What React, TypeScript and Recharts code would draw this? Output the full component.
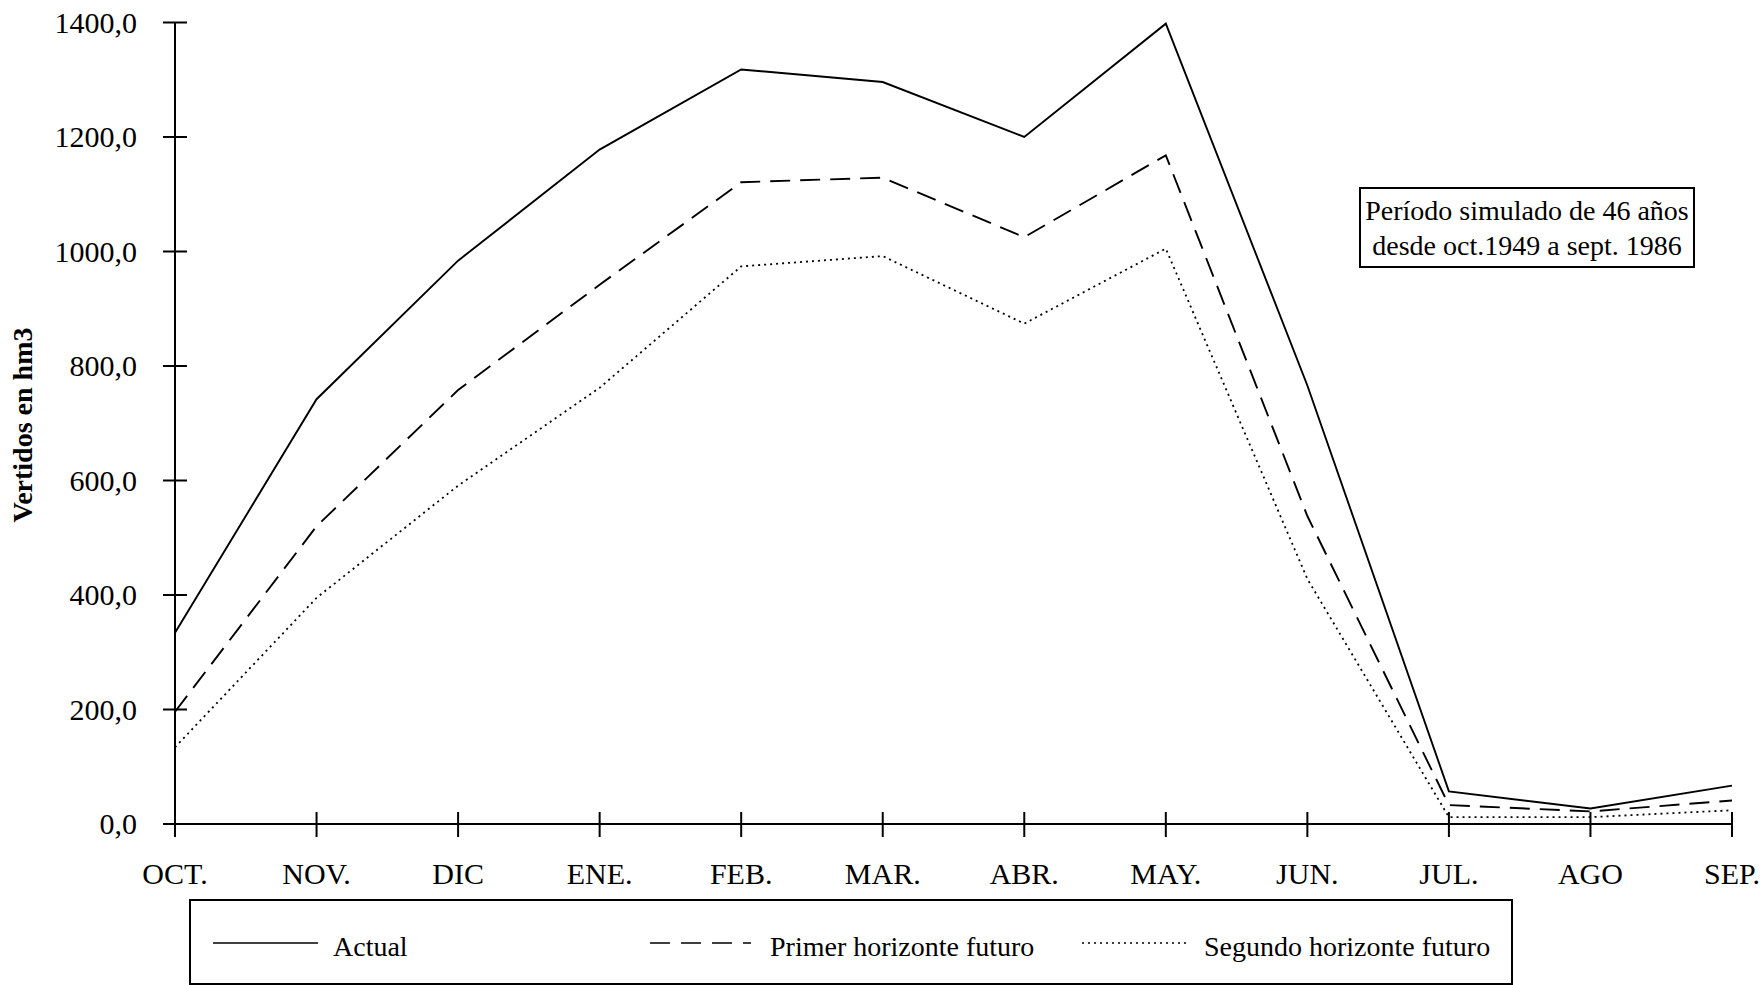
import { LineChart, Line, XAxis, YAxis } from "recharts";

const months = ["OCT.", "NOV.", "DIC", "ENE.", "FEB.", "MAR.", "ABR.", "MAY.", "JUN.", "JUL.", "AGO", "SEP."];
const actual = [334, 742, 984, 1178, 1318, 1296, 1200, 1398, 766, 57, 27, 67];
const primer = [196, 520, 758, 942, 1121, 1129, 1025, 1168, 538, 33, 22, 41];
const segundo = [134, 395, 591, 762, 974, 992, 874, 1005, 428, 12, 12, 24];
const yTicks = [0, 200, 400, 600, 800, 1000, 1200, 1400];

const series = [
  { key: "actual", name: "Actual", dash: undefined, legendDash: undefined },
  { key: "primer", name: "Primer horizonte futuro", dash: "20 10", legendDash: "20 11" },
  { key: "segundo", name: "Segundo horizonte futuro", dash: "2 4", legendDash: "2 4" },
];

const data = months.map((m, i) => ({
  month: m,
  actual: actual[i],
  primer: primer[i],
  segundo: segundo[i],
}));

const W = 1762;
const H = 985;
const FONT = "'Liberation Serif', 'Times New Roman', serif";
const AXIS_X = 175;
const AXIS_Y = 824;

const fmt = (v: number) => v.toFixed(1).replace(".", ",");

const YTick = (props: any) => {
  const { y, payload } = props;
  return (
    <g>
      <line x1={AXIS_X - 12} x2={AXIS_X + 12} y1={y} y2={y} stroke="#000" strokeWidth={2} />
      <text x={137} y={y + 10} textAnchor="end" fontSize={30} fontFamily={FONT} fill="#000">
        {fmt(payload.value)}
      </text>
    </g>
  );
};

const XTick = (props: any) => {
  const { x, payload } = props;
  return (
    <g>
      <line x1={x} x2={x} y1={AXIS_Y - 12} y2={AXIS_Y + 13} stroke="#000" strokeWidth={2} />
      <text x={x} y={884} textAnchor="middle" fontSize={30} fontFamily={FONT} fill="#000">
        {payload.value}
      </text>
    </g>
  );
};

const legendPos = [
  { lineX: 213, lineW: 105, textX: 333 },
  { lineX: 650, lineW: 101, textX: 770 },
  { lineX: 1082, lineW: 104, textX: 1204 },
];

export default function App() {
  return (
    <div style={{ position: "absolute", left: 0, top: 0, width: W, height: H, background: "#fff", fontFamily: FONT, overflow: "hidden" }}>
      <LineChart width={W} height={H} data={data} margin={{ top: 22.5, right: 30, left: 0, bottom: 0 }}>
        <XAxis
          dataKey="month"
          height={161}
          axisLine={{ stroke: "#000", strokeWidth: 2 }}
          tickLine={false}
          tick={<XTick />}
          interval={0}
        />
        <YAxis
          width={175}
          domain={[0, 1400]}
          ticks={yTicks}
          axisLine={{ stroke: "#000", strokeWidth: 2 }}
          tickLine={false}
          tick={<YTick />}
          interval={0}
        />
        {series.map((s) => (
          <Line
            key={s.key}
            type="linear"
            dataKey={s.key}
            name={s.name}
            stroke="#000"
            strokeWidth={s.key === "segundo" ? 1.8 : 1.9}
            strokeDasharray={s.dash}
            dot={false}
            activeDot={false}
            isAnimationActive={false}
          />
        ))}
        <text
          x={22}
          y={425}
          transform="rotate(-90 22 425)"
          textAnchor="middle"
          dominantBaseline="central"
          fontSize={28}
          fontWeight="bold"
          fontFamily={FONT}
          fill="#000"
        >
          Vertidos en hm3
        </text>
      </LineChart>

      <div
        style={{
          position: "absolute",
          left: 1359,
          top: 187,
          width: 336,
          height: 81,
          boxSizing: "border-box",
          border: "2px solid #000",
          textAlign: "center",
          fontSize: 28,
          lineHeight: "35px",
          paddingTop: 4,
          color: "#000",
        }}
      >
        Período simulado de 46 años
        <br />
        desde oct.1949 a sept. 1986
      </div>

      <div
        style={{
          position: "absolute",
          left: 189,
          top: 899,
          width: 1324,
          height: 86,
          boxSizing: "border-box",
          border: "2px solid #000",
        }}
      >
        <svg width={1324} height={86} style={{ position: "absolute", left: -2, top: -2 }}>
          {series.map((s, i) => (
            <g key={s.key}>
              <line
                x1={legendPos[i].lineX - 189}
                x2={legendPos[i].lineX - 189 + legendPos[i].lineW}
                y1={44}
                y2={44}
                stroke="#000"
                strokeWidth={1.6}
                strokeDasharray={s.legendDash}
              />
              <text x={legendPos[i].textX - 189} y={57} fontSize={28} fontFamily={FONT} fill="#000">
                {s.name}
              </text>
            </g>
          ))}
        </svg>
      </div>
    </div>
  );
}
